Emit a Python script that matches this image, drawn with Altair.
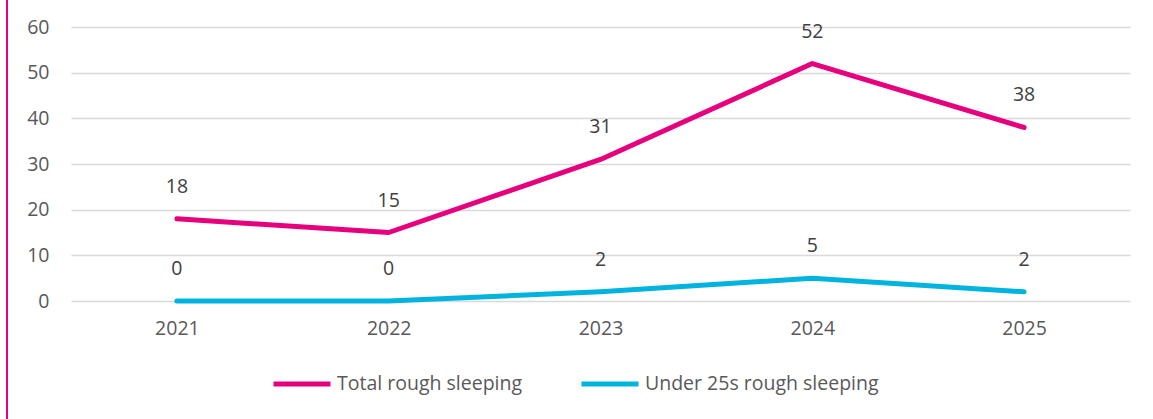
import altair as alt
import pandas as pd

years = ["2021", "2022", "2023", "2024", "2025"]
total = [18, 15, 31, 52, 38]
under25 = [0, 0, 2, 5, 2]
series_names = ["Total rough sleeping", "Under 25s rough sleeping"]
colors = ["#E6007E", "#00B4DF"]

rows = []
for y, v in zip(years, total):
    rows.append({"year": y, "value": v, "series": series_names[0]})
for y, v in zip(years, under25):
    rows.append({"year": y, "value": v, "series": series_names[1]})
df = pd.DataFrame(rows)

FONT = "Open Sans"
FS = 19.5
TXT = "#595959"

x = alt.X("year:N", title=None, scale=alt.Scale(paddingInner=1, paddingOuter=0.5, align=0.5),
          axis=alt.Axis(labelAngle=0, ticks=False, domain=False, labelPadding=18,
                        labelFontSize=FS, labelColor=TXT, labelFont=FONT, grid=False))
y = alt.Y("value:Q", title=None, scale=alt.Scale(domain=[0, 60], nice=False),
          axis=alt.Axis(values=[0, 10, 20, 30, 40, 50, 60], ticks=False, domain=False,
                        labelPadding=22, labelFontSize=FS, labelColor=TXT, labelFont=FONT,
                        gridColor="#D9D9D9", gridWidth=1.3))
color = alt.Color("series:N", scale=alt.Scale(domain=series_names, range=colors),
                  legend=alt.Legend(title=None, orient="none", legendX=200, legendY=326,
                                    direction="horizontal", symbolType="stroke",
                                    symbolSize=3249, symbolStrokeWidth=5,
                                    labelFontSize=FS, labelColor=TXT, labelFont=FONT,
                                    labelLimit=0, labelOffset=4, columnPadding=48,
                                    symbolLimit=10))

lines = alt.Chart(df).mark_line(strokeWidth=5, strokeCap="round", strokeJoin="round").encode(
    x=x, y=y, color=color)

labels = alt.Chart(df).mark_text(dy=-32, fontSize=FS, font=FONT, color="#404040").encode(
    x=alt.X("year:N"), y=alt.Y("value:Q"), text="value:Q")

border = alt.Chart(df).mark_rule(color="#E6007E", strokeWidth=2).encode(
    x=alt.value(-64), y=alt.value(-30), y2=alt.value(395))

chart = alt.layer(lines, labels, border).properties(
    width=1059, height=274,
    background="white",
    autosize=alt.AutoSizeParams(type="none"),
    padding={"left": 71, "top": 27, "right": 23, "bottom": 118},
).configure_view(strokeWidth=0, stroke="transparent"
).configure_axisX(grid=False)

chart.save("out.html", embed_options={"renderer": "svg", "actions": False})
